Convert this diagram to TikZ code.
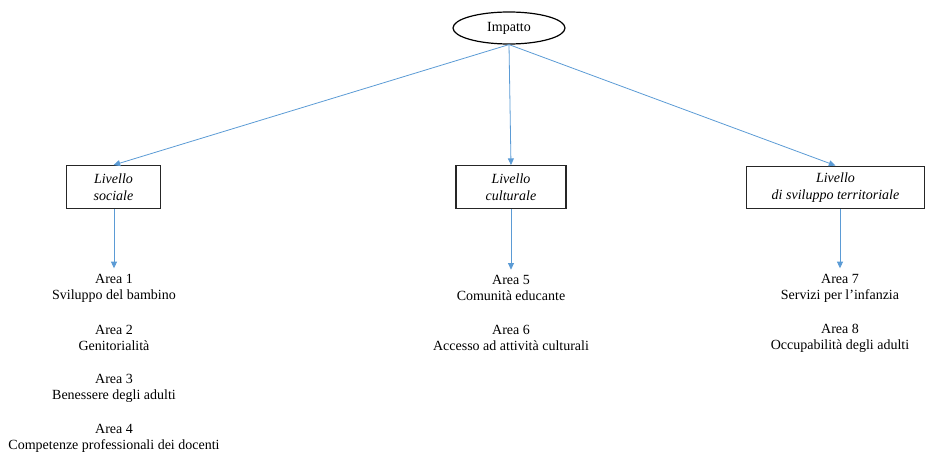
\documentclass[tikz,border=0pt]{standalone}
\usepackage{fontspec}
\setmainfont{Liberation Serif}
\usetikzlibrary{arrows.meta, positioning, shapes.geometric}
\definecolor{linkblue}{RGB}{91,155,213}

\begin{document}
\begin{tikzpicture}[x=0.75pt, y=-0.75pt,
    livello/.style={draw=black!85, line width=0.9pt, align=center, minimum height=32pt,
        inner sep=2pt, font=\fontsize{10.5}{12.5}\selectfont\itshape},
    area/.style={align=center, inner sep=1pt, font=\fontsize{10.5}{12}\selectfont},
    link/.style={draw=linkblue, line width=0.6pt, -{Triangle[length=5pt, width=4.5pt]}}]

    \useasboundingbox (0,0) rectangle (926,452);

    % Radice
    \node[draw, ellipse, line width=0.9pt, minimum width=84pt, minimum height=24pt,
        inner sep=0pt, font=\fontsize{10.5}{12}\selectfont] (impatto) at (509,28) {Impatto};

    % Livelli
    \node[livello, minimum width=71pt] (sociale) at (113.5,187) {Livello\\sociale};
    \node[livello, minimum width=82.5pt] (culturale) at (511,187) {Livello\\culturale};
    \node[livello, minimum width=134pt] (territoriale) at (835.5,187.5) {Livello\\di sviluppo territoriale};

    % Aree
    \node[area] (area1) at (114,288) {Area 1\\Sviluppo del bambino};
    \node[area] (area2) at (114,338) {Area 2\\Genitorialità};
    \node[area] (area3) at (114,388) {Area 3\\Benessere degli adulti};
    \node[area] (area4) at (114,438) {Area 4\\Competenze professionali dei docenti};
    \node[area] (area5) at (511,288) {Area 5\\Comunità educante};
    \node[area] (area6) at (511,338) {Area 6\\Accesso ad attività culturali};
    \node[area] (area7) at (840,288) {Area 7\\Servizi per l’infanzia};
    \node[area] (area8) at (840,338) {Area 8\\Occupabilità degli adulti};

    % Frecce
    \draw[link] (impatto.south) -- (sociale.north);
    \draw[link] (impatto.south) -- (culturale.north);
    \draw[link] (impatto.south) -- (territoriale.north);
    \draw[link, shorten >=3pt] (area1.north |- sociale.south) -- (area1.north);
    \draw[link, shorten >=3pt] (area5.north |- culturale.south) -- (area5.north);
    \draw[link, shorten >=3pt] (area7.north |- territoriale.south) -- (area7.north);

\end{tikzpicture}
\end{document}
